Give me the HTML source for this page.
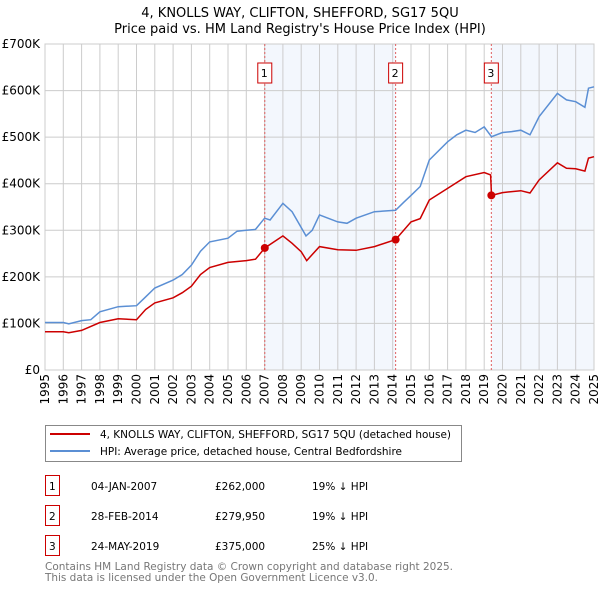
<!DOCTYPE html>
<html><head><meta charset="utf-8"><style>
body{margin:0;background:#fff;font-family:"DejaVu Sans","Liberation Sans",sans-serif;}
svg text{font-family:"DejaVu Sans","Liberation Sans",sans-serif;}
</style></head><body>
<svg id="c" width="600" height="590" viewBox="0 0 600 590" xmlns="http://www.w3.org/2000/svg">
<text x="300" y="17" text-anchor="middle" font-size="13">4, KNOLLS WAY, CLIFTON, SHEFFORD, SG17 5QU</text>
<text x="300" y="33" text-anchor="middle" font-size="13">Price paid vs. HM Land Registry's House Price Index (HPI)</text>
<g id="plot"></g>
<rect x="45.5" y="425.5" width="416" height="36" fill="#fff" stroke="#888"/>
<line x1="50" y1="434" x2="90" y2="434" stroke="#cc0000" stroke-width="2"/>
<text x="100" y="438" font-size="10.5" textLength="351" lengthAdjust="spacingAndGlyphs">4, KNOLLS WAY, CLIFTON, SHEFFORD, SG17 5QU (detached house)</text>
<line x1="50" y1="451" x2="90" y2="451" stroke="#5b8fd4" stroke-width="2"/>
<text x="100" y="455" font-size="10.5" textLength="302" lengthAdjust="spacingAndGlyphs">HPI: Average price, detached house, Central Bedfordshire</text>
<g id="table" font-size="10.5"></g>
<text x="45" y="570" font-size="11" textLength="408" lengthAdjust="spacingAndGlyphs" fill="#777">Contains HM Land Registry data © Crown copyright and database right 2025.</text>
<text x="45" y="581" font-size="11" textLength="333" lengthAdjust="spacingAndGlyphs" fill="#777">This data is licensed under the Open Government Licence v3.0.</text>
</svg>
<script>
const hpiYears=[1995,1996,1996.3,1997,1997.5,1998,1999,2000,2000.5,2001,2002,2002.5,2003,2003.5,2004,2005,2005.5,2006,2006.5,2007,2007.3,2008,2008.5,2008.93,2009.26,2009.6,2010,2011,2011.5,2012,2013,2014.16,2014.6,2015,2015.5,2016,2017,2017.5,2018,2018.5,2019,2019.4,2020,2020.5,2021,2021.5,2022,2023,2023.5,2024,2024.5,2024.7,2025];
const hpiValues=[102,102,99,106,108,125,136,138,157,176,193,205,225,255,275,283,298,300,302,326,322,358,340,311,288,300,333,318,315,326,340,343,360,375,394,451,490,505,515,510,522,501,510,512,515,505,544,594,580,576,564,605,608];
const ppYears=[1995,1996,1996.3,1997,1998,1999,2000,2000.5,2001,2002,2002.5,2003,2003.5,2004,2005,2006,2006.5,2007.01,2008,2008.5,2009,2009.3,2010,2011,2012,2013,2014.16,2015,2015.5,2016,2017,2018,2019,2019.35,2019.4,2020,2021,2021.5,2022,2023,2023.5,2024,2024.5,2024.7,2025];
const ppValues=[82,82,80,85,102,110,108,130,144,155,166,180,205,220,231,235,238,262,288,272,254,235,265,258,257,265,279.95,318,325,365,390,415,424,419,375,381,385,380,408,445,433,432,427,455,458];
const saleYears=[2007.01,2014.16,2019.39];
const saleValues=[262,279.95,375];
const saleLabels=["1","2","3"];
const saleDates=["04-JAN-2007","28-FEB-2014","24-MAY-2019"];
const salePrices=["£262,000","£279,950","£375,000"];
const saleDiffs=["19% ↓ HPI","19% ↓ HPI","25% ↓ HPI"];
const yTicks=[0,100,200,300,400,500,600,700];
const yTickLabels=["£0","£100K","£200K","£300K","£400K","£500K","£600K","£700K"];
const NS="http://www.w3.org/2000/svg";
const X0=45,X1=594,Y0=370,Y1=44;
const xs=y=>X0+(y-1995)/30*(X1-X0);
const ys=v=>Y0-v/700*(Y0-Y1);
const plot=document.getElementById('plot');
function mk(t,a,p){const e=document.createElementNS(NS,t);for(const k in a)e.setAttribute(k,a[k]);(p||plot).appendChild(e);return e;}
let r=mk('rect',{x:xs(saleYears[0]),y:Y1,width:xs(saleYears[1])-xs(saleYears[0]),height:Y0-Y1,fill:'#eef3fc',opacity:0.7});


r=mk('rect',{x:xs(saleYears[2]),y:Y1,width:X1-xs(saleYears[2]),height:Y0-Y1,fill:'#eef3fc',opacity:0.7});


for(let y=1995;y<=2025;y++){
 const l=mk('line',{x1:xs(y),x2:xs(y),y1:Y1,y2:Y0,stroke:'#ccc','stroke-width':1});
 
 
 const t=mk('text',{transform:`translate(${xs(y)+4},374) rotate(-90)`,'text-anchor':'end','font-size':12});
 
 
 t.textContent=y;
}
yTicks.forEach((v,i)=>{
 const l=mk('line',{x1:X0,x2:X1,y1:ys(v),y2:ys(v),stroke:'#ccc','stroke-width':1});
 
 
 const t=mk('text',{x:40,y:ys(v)+4,'text-anchor':'end','font-size':12});
 
 
 t.textContent=yTickLabels[i];
});
const fr=mk('rect',{x:X0,y:Y1,width:X1-X0,height:Y0-Y1,fill:'none',stroke:'#ccc'});


saleYears.forEach((y,i)=>{
 const l=mk('line',{x1:xs(y),x2:xs(y),y1:Y1,y2:Y0,stroke:'#e06060','stroke-dasharray':'2,2','stroke-width':1});
 
 
 const b=mk('rect',{x:xs(y)-7,y:63,width:14,height:20,fill:'#fff',stroke:'#cc0000'});
 
 
 const t=mk('text',{x:xs(y)-4,y:77,'font-size':11});
 
 
 t.textContent=saleLabels[i];
});
function pts(a,b){return a.map((y,i)=>xs(y).toFixed(1)+','+ys(b[i]).toFixed(1)).join(' ');}
const h=mk('polyline',{points:pts(hpiYears,hpiValues),fill:'none',stroke:'#5b8fd4','stroke-width':1.5});


const p=mk('polyline',{points:pts(ppYears,ppValues),fill:'none',stroke:'#cc0000','stroke-width':1.5});


saleYears.forEach((y,i)=>{
 const c=mk('circle',{cx:xs(y),cy:ys(saleValues[i]),r:4,fill:'#cc0000'});
 
 
});
const tb=document.getElementById('table');
saleLabels.forEach((s,i)=>{
 const yy=476+i*30;
 const b=mk('rect',{x:45.5,y:yy-0.5,width:14,height:20,fill:'#fff',stroke:'#cc0000'},tb);
 
 
 const cols=[[49,s],[91,saleDates[i]],[215,salePrices[i]],[312,saleDiffs[i]]];
 cols.forEach(([x,txt],j)=>{
  const t=mk('text',{x:x,y:yy+14},tb);
  
  
  t.textContent=txt;
 });
});
</script>
</body></html>
